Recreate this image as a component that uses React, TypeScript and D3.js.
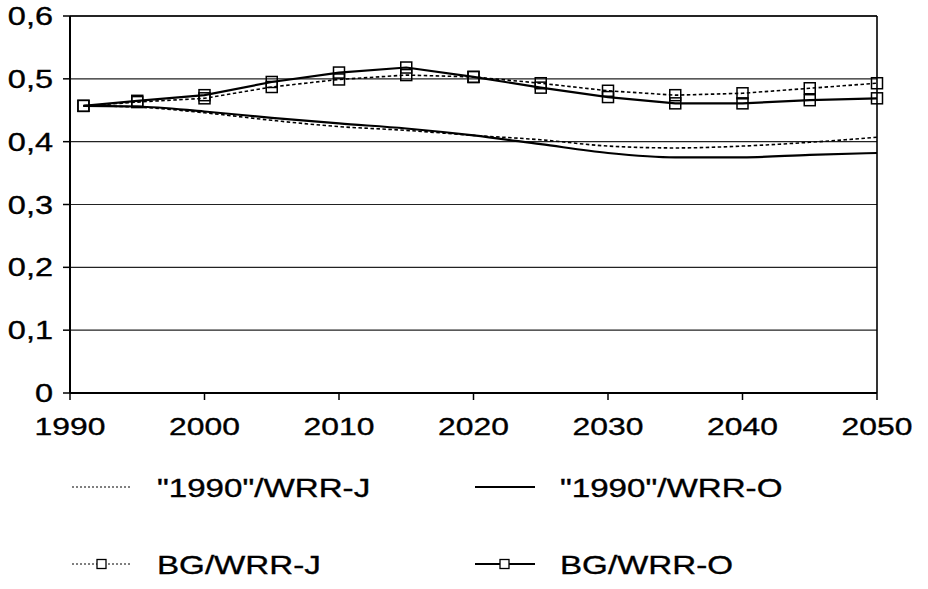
import React from "react";
import * as d3 from "d3";

// years of the scenario points
const years = [1991, 1995, 2000, 2005, 2010, 2015, 2020, 2025, 2030, 2035, 2040, 2045, 2050];

const wrrJ1990 = [0.457, 0.455, 0.446, 0.434, 0.424, 0.418, 0.41, 0.403, 0.393, 0.39, 0.393, 0.399, 0.407];
const wrrO1990 = [0.457, 0.456, 0.448, 0.438, 0.429, 0.421, 0.41, 0.396, 0.382, 0.375, 0.375, 0.379, 0.382];
const bgWrrJ = [0.457, 0.463, 0.469, 0.487, 0.499, 0.506, 0.503, 0.493, 0.481, 0.474, 0.477, 0.485, 0.493];
const bgWrrO = [0.457, 0.465, 0.474, 0.495, 0.51, 0.518, 0.503, 0.486, 0.471, 0.461, 0.461, 0.466, 0.469];

const yTicks = [0, 0.1, 0.2, 0.3, 0.4, 0.5, 0.6];
const xTicks = [1990, 2000, 2010, 2020, 2030, 2040, 2050];

const series = [
  { name: "\"1990\"/WRR-J", values: wrrJ1990, dashed: true, marker: false },
  { name: "\"1990\"/WRR-O", values: wrrO1990, dashed: false, marker: false },
  { name: "BG/WRR-J", values: bgWrrJ, dashed: true, marker: true },
  { name: "BG/WRR-O", values: bgWrrO, dashed: false, marker: true },
];

const W = 928;
const H = 589;
const SX = 1.3; // the scan is stretched sideways
const FONT = "'Liberation Sans', Arial, Helvetica, sans-serif";

export default function App() {
  const x = d3.scaleLinear().domain([1990, 2050]).range([70, 877]);
  const y = d3.scaleLinear().domain([0, 0.6]).range([393, 16]);

  const fmt = (v: number) => (v === 0 ? "0" : d3.format(".1f")(v).replace(".", ","));

  const lineFor = (marker: boolean) =>
    d3
      .line<number>()
      .x((d, i) => x(years[i]))
      .y((d) => y(d))
      .curve(marker ? d3.curveLinear : d3.curveMonotoneX);

  const [x0, x1] = x.range();
  const [y0, y1] = y.range();

  // legend layout
  const legendCols = [72, 475];
  const legendRows = [487, 564];

  return (
    <svg
      width={W}
      height={H}
      viewBox={`0 0 ${W} ${H}`}
      style={{ position: "absolute", left: 0, top: 0, background: "#fff" }}
    >
      <rect width={W} height={H} fill="#fff" />

      {/* gridlines */}
      {yTicks.map((t) => (
        <line key={"g" + t} x1={x0} x2={x1} y1={y(t)} y2={y(t)} stroke="#222" strokeWidth={1.2} />
      ))}

      {/* frame */}
      <line x1={x0} x2={x1} y1={y1} y2={y1} stroke="#000" strokeWidth={1.6} />
      <line x1={x1} x2={x1} y1={y1} y2={y0} stroke="#000" strokeWidth={1.6} />
      <line x1={x0} x2={x0} y1={y1} y2={y0} stroke="#000" strokeWidth={2} />
      <line x1={x0} x2={x1} y1={y0} y2={y0} stroke="#000" strokeWidth={2} />

      {/* y axis ticks and labels */}
      {yTicks.map((t) => (
        <g key={"y" + t}>
          <line x1={x0 - 7} x2={x0} y1={y(t)} y2={y(t)} stroke="#000" strokeWidth={1.5} />
          <text
            transform={`translate(53,${y(t) + 9}) scale(${SX},1)`}
            textAnchor="end"
            fontFamily={FONT}
            fontSize={25}
            stroke="#000"
            strokeWidth={0.35}
          >
            {fmt(t)}
          </text>
        </g>
      ))}

      {/* x axis ticks and labels */}
      {xTicks.map((t) => (
        <g key={"x" + t}>
          <line x1={x(t)} x2={x(t)} y1={y0} y2={y0 + 7} stroke="#000" strokeWidth={1.5} />
          <text
            transform={`translate(${x(t)},435) scale(${SX},1)`}
            textAnchor="middle"
            fontFamily={FONT}
            fontSize={24.5}
            stroke="#000"
            strokeWidth={0.35}
          >
            {t}
          </text>
        </g>
      ))}

      {/* lines */}
      {series.map((s) => (
        <path
          key={s.name}
          d={lineFor(s.marker)(s.values) || ""}
          fill="none"
          stroke="#000"
          strokeWidth={s.dashed ? 1.6 : 2.2}
          strokeDasharray={s.dashed ? "3.5,2.5" : undefined}
        />
      ))}

      {/* markers */}
      {series
        .filter((s) => s.marker)
        .map((s) =>
          s.values.map((v, i) => (
            <rect
              key={s.name + i}
              x={x(years[i]) - 5.5}
              y={y(v) - 5.5}
              width={11}
              height={11}
              fill="none"
              stroke="#000"
              strokeWidth={1.5}
            />
          ))
        )}

      {/* legend */}
      {series.map((s, i) => {
        const lx = legendCols[i % 2];
        const ly = legendRows[Math.floor(i / 2)];
        return (
          <g key={"l" + s.name}>
            <line
              x1={lx}
              x2={lx + 60}
              y1={ly}
              y2={ly}
              stroke="#000"
              strokeWidth={s.dashed ? 1 : 2}
              strokeDasharray={s.dashed ? "2,2" : undefined}
            />
            {s.marker && (
              <rect x={lx + 25} y={ly - 4.5} width={9} height={9} fill="#fff" stroke="#000" strokeWidth={1.3} />
            )}
            <text
              transform={`translate(${lx + 85},${ly + 9.5}) scale(${SX},1)`}
              fontFamily={FONT}
              fontSize={25.5}
              stroke="#000"
              strokeWidth={0.35}
            >
              {s.name}
            </text>
          </g>
        );
      })}
    </svg>
  );
}
